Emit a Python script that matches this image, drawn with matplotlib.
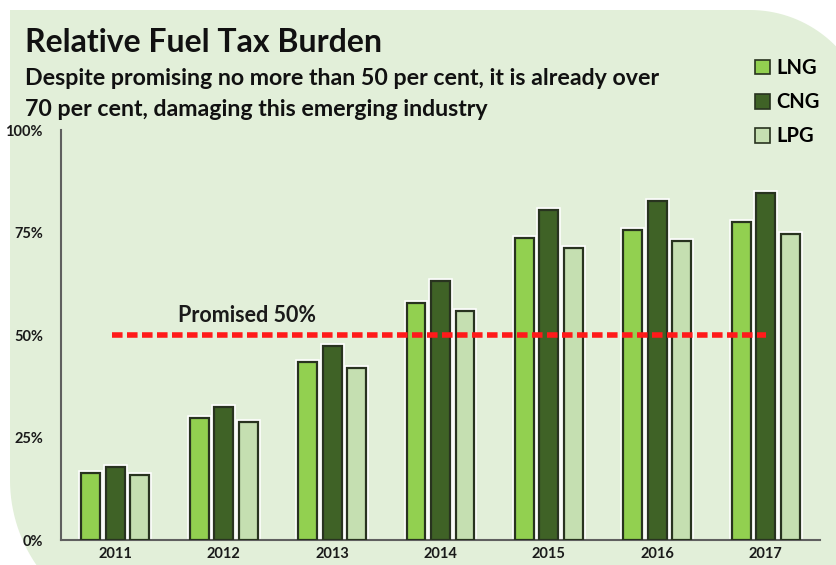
import numpy as np
import matplotlib
matplotlib.use("Agg")
import matplotlib.pyplot as plt
from matplotlib.path import Path
from matplotlib.patches import PathPatch, Patch

plt.rcParams['font.family'] = ['Lato', 'DejaVu Sans']
plt.rcParams['font.weight'] = 'bold'

years = ['2011', '2012', '2013', '2014', '2015', '2016', '2017']
lng = [16.4, 29.7, 43.4, 57.8, 73.7, 75.6, 77.6]
cng = [17.9, 32.5, 47.3, 63.2, 80.5, 82.7, 84.6]
lpg = [15.9, 28.7, 42.0, 55.9, 71.2, 72.9, 74.6]
series = [('LNG', lng, '#92d050'), ('CNG', cng, '#3f6226'), ('LPG', lpg, '#c5dfb1')]
promised = 50

W, H = 837, 565
fig = plt.figure(figsize=(W / 100, H / 100), dpi=100)
fig.patch.set_facecolor('white')

# rounded green panel behind everything (pixel coords, y from top)
def arc(cx, cy, r, a0, a1, n=40):
    t = np.radians(np.linspace(a0, a1, n))
    return list(zip(cx + r * np.cos(t), cy - r * np.sin(t)))

pts = [(10, 10)]
pts += arc(750, 130, 120, 90, 0)          # top-right corner
pts += [(870, 130), (870, 600), (10 + 150, 600)]
pts += arc(160, 480, 150, 270, 180)       # bottom-left corner
pts += [(10, 10)]
pts = [(x / W, 1 - y / H) for x, y in pts]
panel = PathPatch(Path(pts), facecolor='#e2efd9', edgecolor='none',
                  transform=fig.transFigure, zorder=-5)
fig.add_artist(panel)

ax = fig.add_axes([61 / W, 1 - 540 / H, (820 - 61) / W, (540 - 130) / H])
ax.set_facecolor('none')
ax.set_zorder(1)

x = np.arange(len(years))
width = 0.175
pitch = 0.226
for i, (name, vals, col) in enumerate(series):
    pos = x + (i - 1) * pitch
    ax.bar(pos, vals, width, color=col, edgecolor='white', linewidth=4, zorder=2)
    ax.bar(pos, vals, width, color=col, edgecolor='#28331f', linewidth=1.6, zorder=3)

ax.plot([-0.03, 6], [promised, promised], color='#ff1a1a', lw=4,
        dashes=(1.9, 0.8), zorder=4)
ax.text(1.22, promised + 2.2, 'Promised 50%', ha='center', va='bottom',
        fontsize=15.5, fontweight='bold', color='#1a1a1a', zorder=5)

ax.set_xlim(-0.5, 6.5)
ax.set_ylim(0, 100)
ax.set_yticks([0, 25, 50, 75, 100])
ax.set_yticklabels(['0%', '25%', '50%', '75%', '100%'])
ax.set_xticks(x)
ax.set_xticklabels(years)
ax.tick_params(length=0, labelsize=10.5, colors='#1a1a1a')
ax.tick_params(axis='y', pad=13)
ax.tick_params(axis='x', pad=5)
for lab in ax.get_xticklabels() + ax.get_yticklabels():
    lab.set_fontweight('bold')
for s in ['top', 'right']:
    ax.spines[s].set_visible(False)
for s in ['left', 'bottom']:
    ax.spines[s].set_color('#5f5f5f')
    ax.spines[s].set_linewidth(1.5)

fig.text(25 / W, 1 - 52 / H, 'Relative Fuel Tax Burden', fontsize=23,
         fontweight='bold', color='#111111', ha='left', va='baseline')
fig.text(25 / W, 1 - 85 / H,
         'Despite promising no more than 50 per cent, it is already over',
         fontsize=16.7, fontweight='bold', color='#111111', ha='left', va='baseline')
fig.text(25 / W, 1 - 116 / H,
         '70 per cent, damaging this emerging industry',
         fontsize=16.7, fontweight='bold', color='#111111', ha='left', va='baseline')

handles = [Patch(facecolor=c, edgecolor='#28331f', linewidth=1.2, label=n)
           for n, _, c in series]
leg = fig.legend(handles=handles, loc='upper left', bbox_to_anchor=(747 / W, 1 - 50 / H),
                 frameon=False, fontsize=14.5, handlelength=0.75, handleheight=0.75,
                 handletextpad=0.3, labelspacing=0.7, borderaxespad=0)
for t in leg.get_texts():
    t.set_fontweight('bold')

fig.savefig('out.png', dpi=100, facecolor='white')
